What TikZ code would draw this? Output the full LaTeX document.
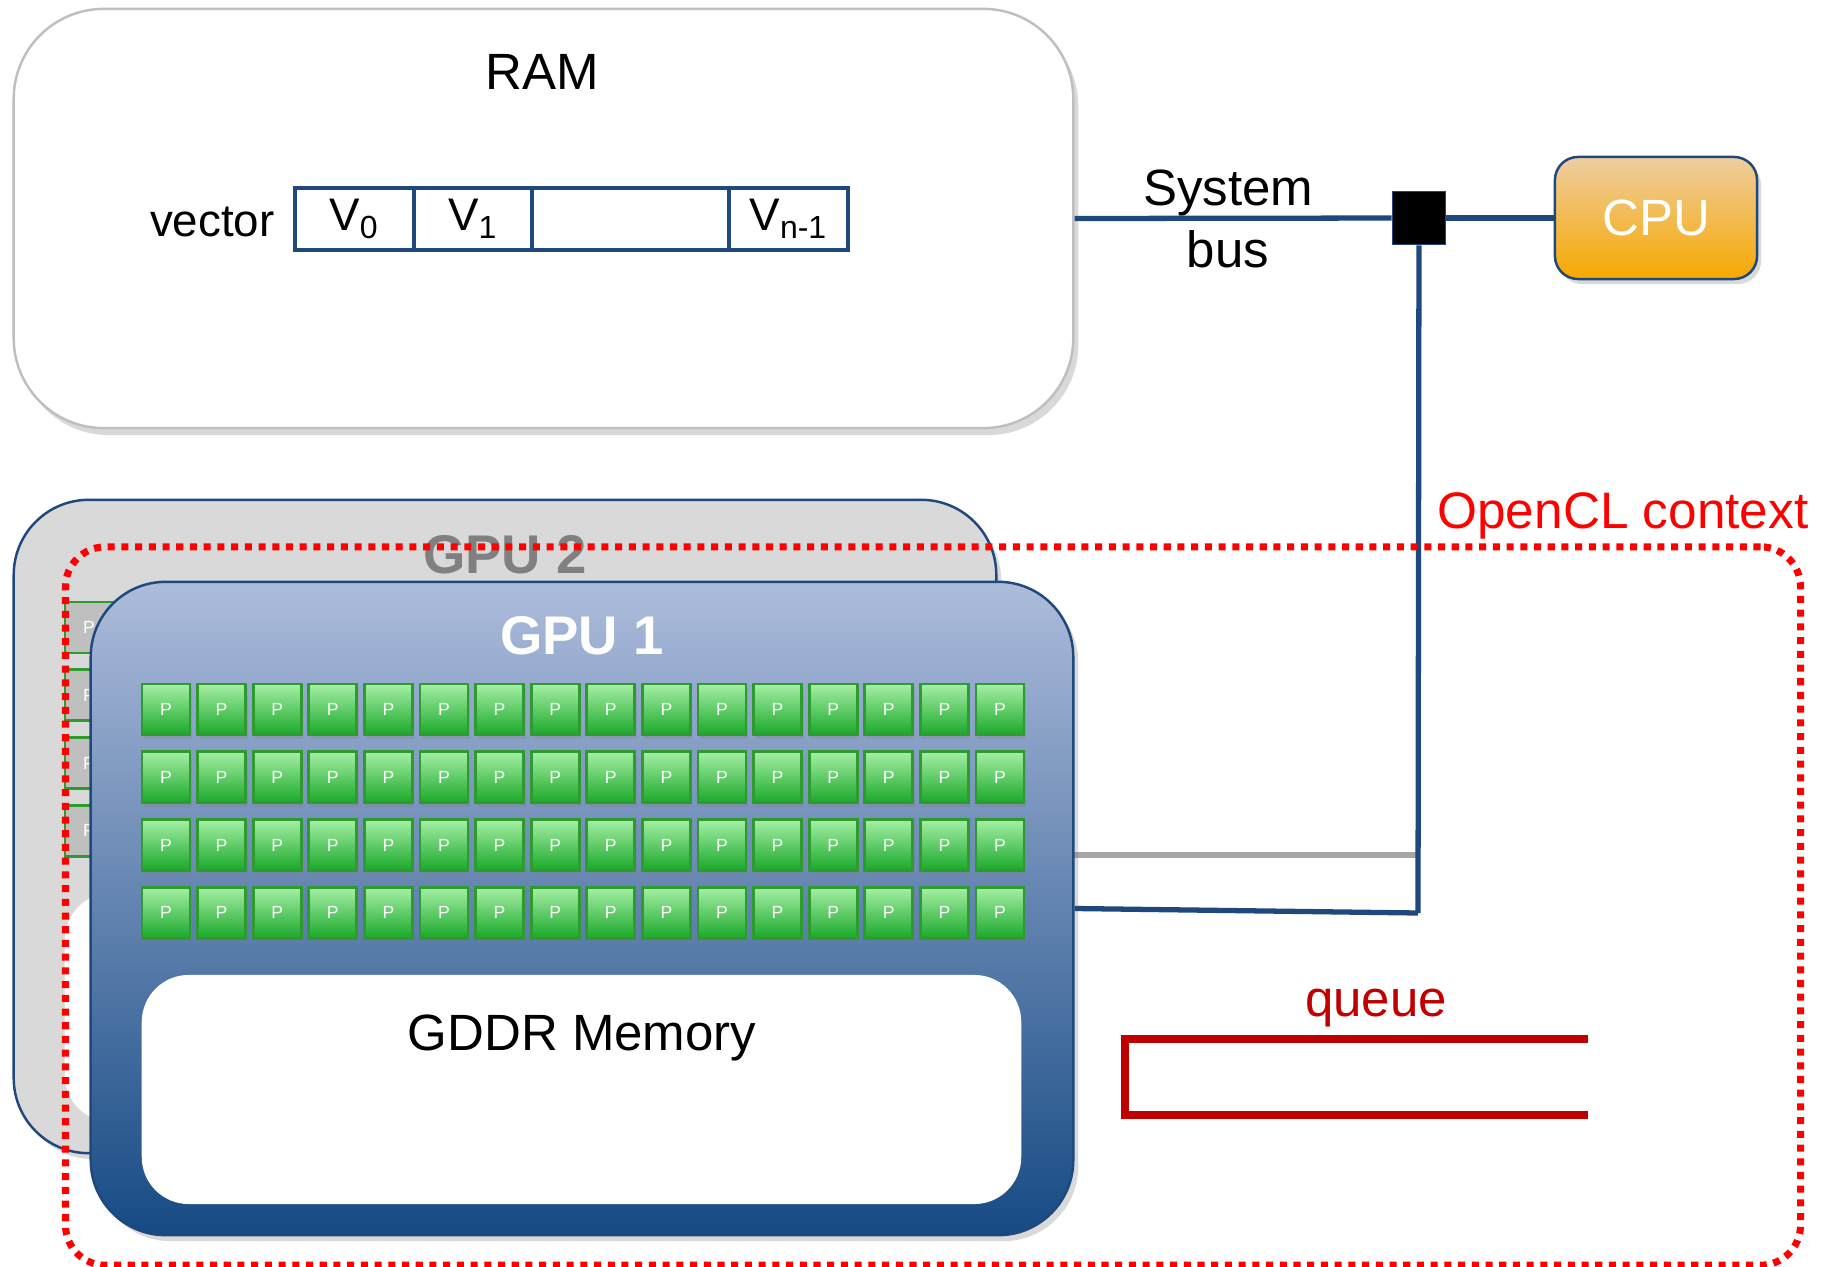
\documentclass[tikz,border=0pt]{standalone}
\usepackage{fontspec}
\setmainfont{Liberation Sans}
\usetikzlibrary{positioning,shadows}

\definecolor{busblue}{RGB}{31,73,125}
\definecolor{cpulight}{RGB}{238,206,160}
\definecolor{cpudark}{RGB}{247,168,0}
\definecolor{gpugray}{RGB}{217,217,217}
\definecolor{gputop}{RGB}{173,188,219}
\definecolor{gpumid}{RGB}{145,168,207}
\definecolor{gpubot}{RGB}{22,74,132}
\definecolor{corelight}{RGB}{165,239,165}
\definecolor{coredark}{RGB}{26,168,42}
\definecolor{coreedge}{RGB}{46,155,46}
\definecolor{queuered}{RGB}{192,0,0}

\begin{document}
\begin{tikzpicture}[x=0.01cm, y=-0.01cm,
  rambox/.style={draw=gray!50, line width=0.7pt, fill=white, rounded corners=0.9cm,
                 minimum width=10.59cm, minimum height=4.19cm,
                 drop shadow={opacity=0.3, shadow xshift=0.05cm, shadow yshift=-0.07cm}},
  cell/.style={draw=busblue, line width=1.2pt, outer sep=0pt, inner sep=0pt,
               minimum height=0.62cm, font=\fontsize{13}{15}\selectfont},
  bus/.style={busblue, line width=1.5pt},
  junction/.style={draw=busblue, fill=black, line width=0.5pt, inner sep=0pt, minimum size=0.53cm},
  cpubox/.style={draw=busblue, line width=0.7pt, rounded corners=0.23cm,
                 top color=cpulight, bottom color=cpudark, text=white,
                 minimum width=2.02cm, minimum height=1.22cm, font=\fontsize{14.5}{16}\selectfont,
                 drop shadow={opacity=0.3, shadow xshift=0.04cm, shadow yshift=-0.05cm}},
  gpubox/.style={draw=busblue, line width=0.7pt, rounded corners=0.75cm,
                 minimum width=9.82cm, minimum height=6.53cm,
                 drop shadow={opacity=0.3, shadow xshift=0.05cm, shadow yshift=-0.06cm}},
  pcore/.style={draw=coreedge, line width=0.8pt, top color=corelight, bottom color=coredark,
                minimum width=0.48cm, minimum height=0.51cm, inner sep=0pt, text=white,
                font=\fontsize{5}{6}\selectfont,
                drop shadow={opacity=0.25, shadow xshift=0.02cm, shadow yshift=-0.04cm}},
  pcoreoff/.style={draw=coreedge, line width=0.8pt, fill=gray!50,
                minimum width=0.48cm, minimum height=0.51cm, inner sep=0pt, text=white,
                font=\fontsize{5}{6}\selectfont},
  mem/.style={fill=white, rounded corners=0.47cm, minimum width=8.79cm, minimum height=2.29cm},
  context/.style={draw=red, line width=2pt, dash pattern=on 2pt off 1.9pt, rounded corners=0.4cm,
                  minimum width=17.34cm, minimum height=7.18cm},
  biglabel/.style={font=\fontsize{14.5}{17.5}\selectfont},
  gpulabel/.style={font=\fontsize{15.5}{18}\selectfont\bfseries}
]
  \useasboundingbox (0,0) rectangle (1824,1267);

  % host side
  \node[rambox] (ram) at (543.5,218.5) {};
  \node[biglabel] (ramlabel) at (542,72) {RAM};
  \node[cell, minimum width=1.19cm] (v0) at (354.5,219) {V\textsubscript{0}};
  \node[cell, minimum width=1.18cm, right=0pt of v0] (v1) {V\textsubscript{1}};
  \node[cell, minimum width=1.97cm, right=0pt of v1] (vmid) {};
  \node[cell, minimum width=1.19cm, right=0pt of vmid] (vn) {V\textsubscript{n-1}};
  \node[font=\fontsize{13}{15}\selectfont, left=0.08cm of v0, yshift=-0.03cm] (veclabel) {vector};

  \node[junction] (bus) at (1419,218) {};
  \node[cpubox] (cpu) at (1656,218) {CPU};
  \node[biglabel, align=center] (buslabel) at (1228,219) {System\\bus};

  % second device, mostly hidden
  \node[gpubox, fill=gpugray] (gpu2) at (505,826.5) {};
  \foreach \j in {0,...,3} {
    \node[pcoreoff] (q-\j) at (89, 627.5+67.8*\j) {P};
  }
  \node[mem] (mem2) at (504.5,1007.5) {};
  \node[gpulabel, text=gray] (gpu2label) at (505,555) {GPU 2};

  \coordinate (tap) at (1418,913);
  \coordinate (gtap) at (1418,855);
  \draw[gray!70, line width=1.6pt] (gtap -| gpu2.east) -- (gtap);

  % first device
  \node[gpubox, top color=gputop, middle color=gpumid, bottom color=gpubot] (gpu1) at (582,908.5) {};
  \node[gpulabel, text=white] (gpu1label) at (582,636) {GPU 1};
  \foreach \i in {0,...,15} {
    \foreach \j in {0,...,3} {
      \node[pcore] (p-\i-\j) at (166+55.6*\i, 709.5+67.8*\j) {P};
    }
  }
  \node[mem] (mem1) at (581.5,1089.5) {};
  \node[font=\fontsize{14.5}{17}\selectfont] (memlabel) at (582,1038) {GDDR Memory};

  % bus
  \draw[bus] (ram.east) -- (bus);
  \draw[bus] (bus) -- (cpu);
  \draw[bus] (bus) -- (tap);
  \draw[bus] (gpu1.east) -- (tap);

  % context and queue
  \node[context] (ctx) at (933,906) {};
  \node[text=red, font=\fontsize{14.6}{17}\selectfont] (ctxlabel) at (1623,516) {OpenCL context};
  \draw[queuered, line width=2pt] (1588,1039) -- (1125,1039) -- (1125,1115) -- (1588,1115);
  \node[biglabel, text=queuered] (queuelabel) at (1376,1008) {queue};
\end{tikzpicture}
\end{document}
